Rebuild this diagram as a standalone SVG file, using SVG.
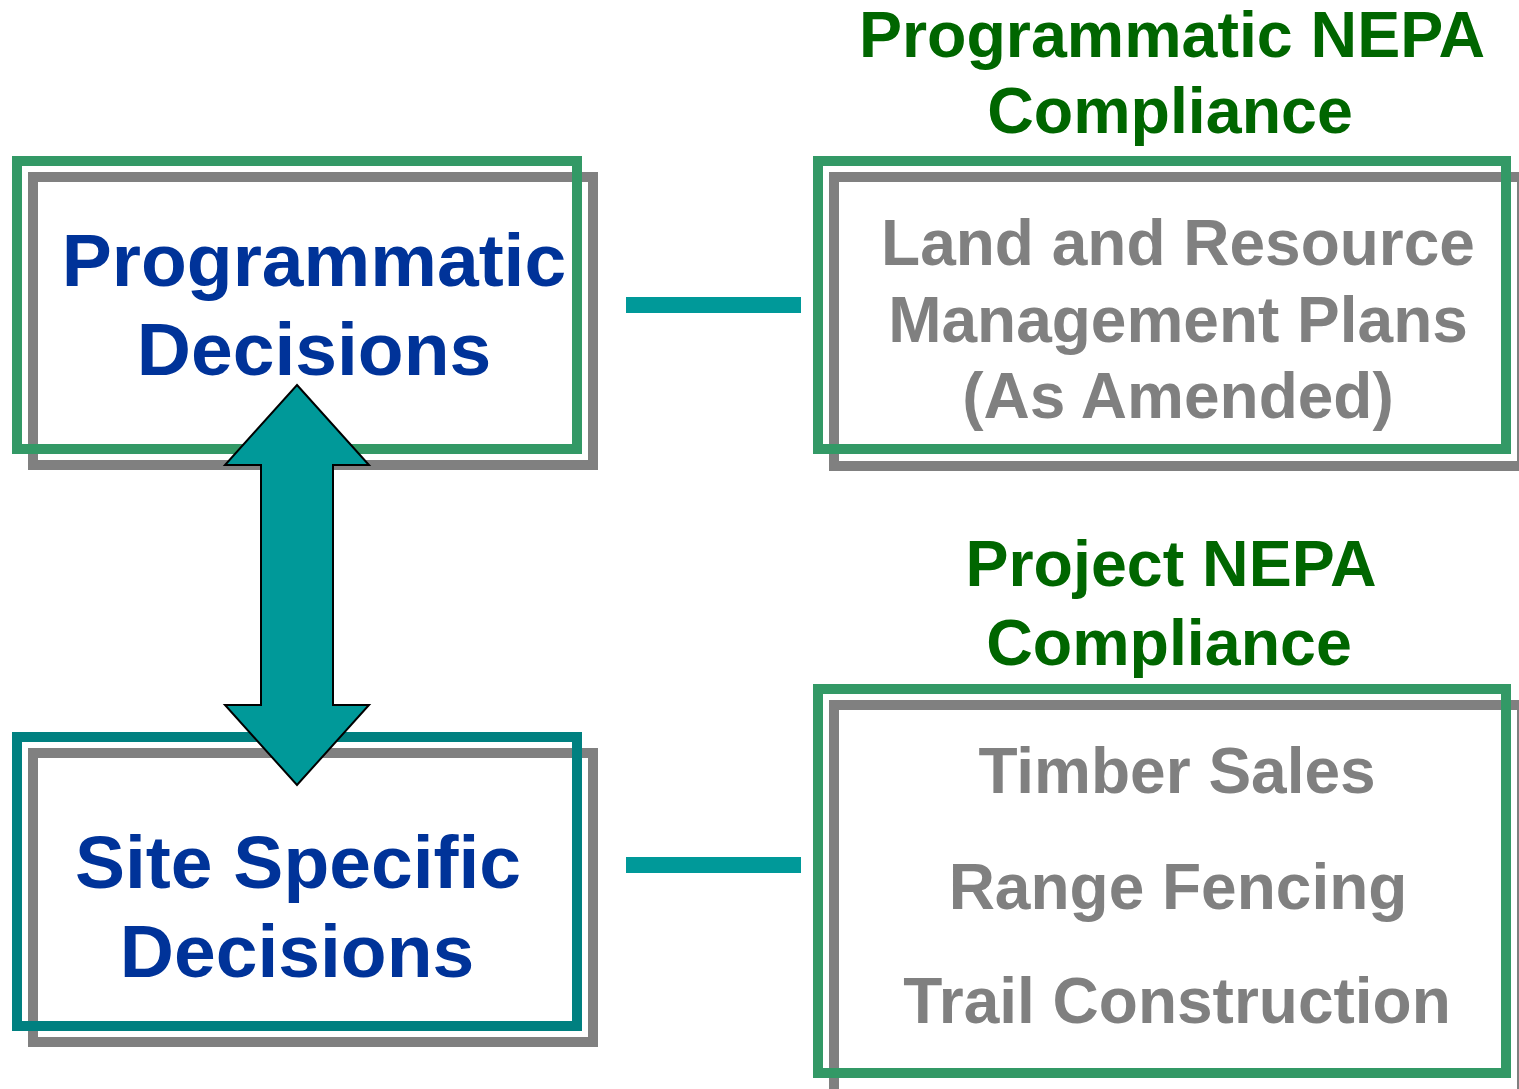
<svg xmlns="http://www.w3.org/2000/svg" width="1519" height="1089" viewBox="0 0 1519 1089">
<style>
.bg{fill:#ffffff}
.gray{fill:none;stroke:#808080;stroke-width:10}
.green{fill:none;stroke:#339966;stroke-width:10}
.teal{fill:none;stroke:#008080;stroke-width:10}
.blue{font-family:"Liberation Sans",Arial,sans-serif;font-weight:bold;font-size:75px;fill:#003399;text-anchor:middle}
.gtxt{font-family:"Liberation Sans",Arial,sans-serif;font-weight:bold;font-size:64px;fill:#808080;text-anchor:middle}
.head{font-family:"Liberation Sans",Arial,sans-serif;font-weight:bold;font-size:64.5px;fill:#006600;text-anchor:middle}
.conn{fill:#009999}
.arrow{fill:#009999;stroke:#000000;stroke-width:2;stroke-linejoin:miter}
</style>
<rect class="bg" x="0" y="0" width="1519" height="1089"/>

<g id="programmatic-decisions">
<rect class="gray" x="33" y="177" width="560" height="288"/>
<rect class="green" x="17" y="161" width="560" height="288"/>
<text class="blue" x="314" y="286">Programmatic</text>
<text class="blue" x="314" y="375">Decisions</text>
</g>

<g id="site-specific-decisions">
<rect class="gray" x="33" y="753" width="560" height="289"/>
<rect class="teal" x="17" y="737" width="560" height="289"/>
<text class="blue" x="298" y="888">Site Specific</text>
<text class="blue" x="297" y="977">Decisions</text>
</g>

<g id="programmatic-nepa-heading">
<text class="head" x="1172" y="57">Programmatic NEPA</text>
<text class="head" x="1170" y="133">Compliance</text>
</g>

<g id="land-resource-plans">
<rect class="gray" x="834" y="177" width="688" height="289"/>
<rect class="green" x="818" y="161" width="688" height="288"/>
<text class="gtxt" x="1178" y="265">Land and Resource</text>
<text class="gtxt" x="1178" y="342">Management Plans</text>
<text class="gtxt" x="1178" y="418">(As Amended)</text>
</g>

<g id="project-nepa-heading">
<text class="head" x="1171" y="586">Project NEPA</text>
<text class="head" x="1169" y="665">Compliance</text>
</g>

<g id="project-activities">
<rect class="gray" x="834" y="705" width="688" height="389"/>
<rect class="green" x="818" y="689" width="688" height="384"/>
<text class="gtxt" x="1177" y="793">Timber Sales</text>
<text class="gtxt" x="1178" y="909">Range Fencing</text>
<text class="gtxt" x="1177" y="1023">Trail Construction</text>
</g>

<g id="connectors">
<rect class="conn" x="626" y="297" width="175" height="16"/>
<rect class="conn" x="626" y="857" width="175" height="16"/>
<polygon class="arrow" points="297,385 369,465 333,465 333,705 369,705 297,785 225,705 261,705 261,465 225,465"/>
</g>
</svg>
